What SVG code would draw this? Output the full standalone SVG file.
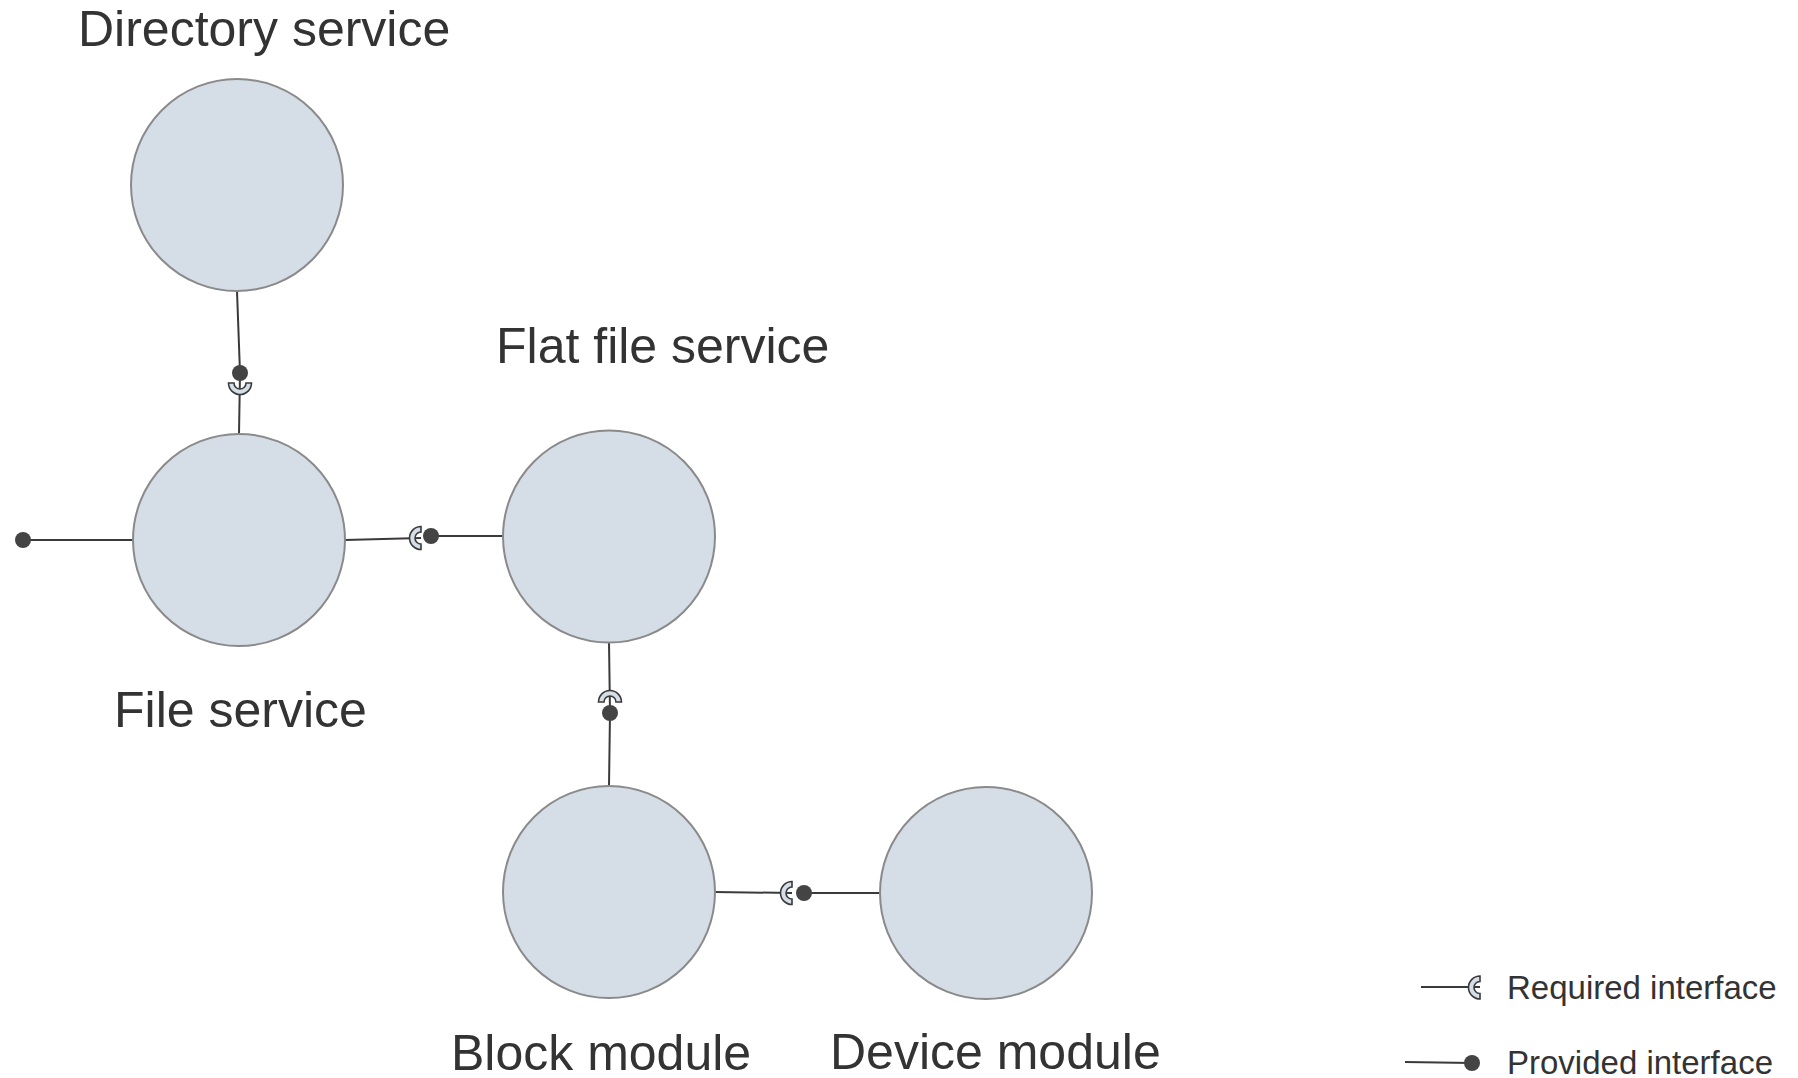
<svg xmlns="http://www.w3.org/2000/svg" xmlns:xlink="http://www.w3.org/1999/xlink" width="1798" height="1078" viewBox="0 0 1798 1078">
<style>
.node{fill:#d5dde6;stroke:#8a8a8a;stroke-width:2}
.conn{stroke:#3a3a3a;stroke-width:2;fill:none}
.ball{fill:#444}
.sock{fill:#d5dde6;stroke:#3a3a3a;stroke-width:1.6}
.lbl{font-family:"Liberation Sans",Arial,sans-serif;font-size:50px;fill:#333}
.leg{font-family:"Liberation Sans",Arial,sans-serif;font-size:33px;fill:#333}
</style>
<defs>
<path id="socket" d="M0,-11.5 A11.5,11.5 0 0 0 0,11.5 L0,6 A6,6 0 0 1 0,-6 Z"/>
</defs>
<rect width="1798" height="1078" fill="#fff"/>
<g id="connectors">
<line class="conn" x1="237" y1="291" x2="240" y2="373"/>
<line class="conn" x1="240" y1="373" x2="239" y2="434"/>
<line class="conn" x1="23" y1="540" x2="133" y2="540"/>
<line class="conn" x1="345" y1="540" x2="421" y2="538"/>
<line class="conn" x1="431" y1="536" x2="503" y2="536"/>
<line class="conn" x1="609" y1="642" x2="610" y2="713"/>
<line class="conn" x1="610" y1="713" x2="609" y2="786"/>
<line class="conn" x1="715" y1="892" x2="792" y2="893"/>
<line class="conn" x1="804" y1="893" x2="880" y2="893"/>
<use href="#socket" class="sock" transform="translate(240,383) rotate(-90)"/>
<circle class="ball" cx="240" cy="373" r="8"/>
<use href="#socket" class="sock" transform="translate(421,538)"/>
<circle class="ball" cx="431" cy="536" r="8"/>
<use href="#socket" class="sock" transform="translate(610,702) rotate(90)"/>
<circle class="ball" cx="610" cy="713" r="8"/>
<use href="#socket" class="sock" transform="translate(792,893)"/>
<circle class="ball" cx="804" cy="893" r="8"/>
<circle class="ball" cx="23" cy="540" r="8"/>
</g>
<g id="directory-service">
<circle class="node" cx="237" cy="185" r="106"/>
<text class="lbl" x="78" y="46">Directory service</text>
</g>
<g id="file-service">
<circle class="node" cx="239" cy="540" r="106"/>
<text class="lbl" x="114" y="727">File service</text>
</g>
<g id="flat-file-service">
<circle class="node" cx="609" cy="536.5" r="106"/>
<text class="lbl" x="496" y="363">Flat file service</text>
</g>
<g id="block-module">
<circle class="node" cx="609" cy="892" r="106"/>
<text class="lbl" x="451" y="1070">Block module</text>
</g>
<g id="device-module">
<circle class="node" cx="986" cy="893" r="106"/>
<text class="lbl" x="830" y="1069">Device module</text>
</g>
<g id="legend">
<line class="conn" x1="1421" y1="987" x2="1480" y2="987"/>
<use href="#socket" class="sock" transform="translate(1480,987.5)"/>
<text class="leg" x="1507" y="999">Required interface</text>
<line class="conn" x1="1405" y1="1062" x2="1472" y2="1063"/>
<circle class="ball" cx="1472" cy="1063" r="8"/>
<text class="leg" x="1507" y="1074">Provided interface</text>
</g>
</svg>
